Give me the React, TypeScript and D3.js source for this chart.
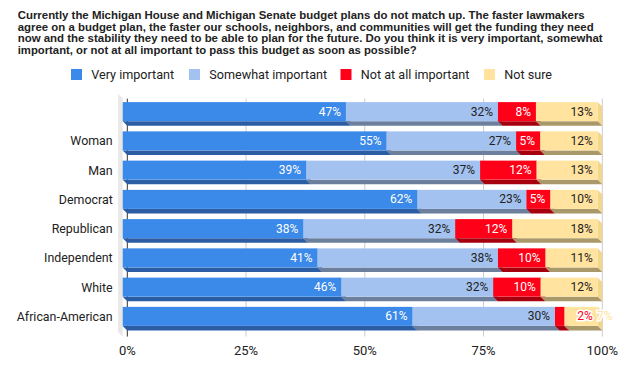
import React from 'react';
import * as d3 from 'd3';

const categories = ["", "Woman", "Man", "Democrat", "Republican", "Independent", "White", "African-American"];
const seriesNames = ["Very important", "Somewhat important", "Not at all important", "Not sure"];
const veryImportant = [47, 55, 39, 62, 38, 41, 46, 61];
const somewhatImportant = [32, 27, 37, 23, 32, 38, 32, 30];
const notAtAllImportant = [8, 5, 12, 5, 12, 10, 10, 2];
const notSure = [13, 12, 13, 10, 18, 11, 12, 7];
const xTicks = [0, 25, 50, 75, 100];

const titleLines = [
  "Currently the Michigan House and Michigan Senate budget plans do not match up. The faster lawmakers",
  "agree on a budget plan, the faster our schools, neighbors, and communities will get the funding they need",
  "now and the stability they need to be able to plan for the future. Do you think it is very important, somewhat",
  "important, or not at all important to pass this budget as soon as possible?",
];
const titleWidths = [567, 576, 585, 399];

const front = ["#3b89e8", "#a4c2f0", "#ff0019", "#ffe39f"];
const bottomFace = ["#2a5da3", "#6c7f9c", "#a6000f", "#a8986a"];
const sideFace = ["#3479d0", "#93afd8", "#e00016", "#f2d690"];
const labelFill = ["#ffffff", "#222222", "#ffffff", "#222222"];

const W = 635;
const H = 371;
const DX = 4.6;
const DY = 4.6;
const plotTop = 94;
const plotBottom = 332;
const legendX = [71, 189, 340.5, 484];

const textW = (s: string) => s.split('').reduce((a, c) => a + (c === '%' ? 8.7 : 6.7), 0);

export default function App() {
  const series = [veryImportant, somewhatImportant, notAtAllImportant, notSure];
  const x = d3.scaleLinear().domain([0, 1]).range([127.3, 602.3]);
  const y = d3.scaleBand<string>().domain(categories).range([97, 331]).paddingInner(0.35).paddingOuter(0.175);
  const h = y.bandwidth();
  const x0 = x(0);

  const rows = categories.map((cat, r) => {
    const vals = series.map(s => s[r]);
    const total = d3.sum(vals);
    let acc = 0;
    const segs = vals.map((v, i) => {
      const a = acc / total;
      acc += v;
      const b = acc / total;
      return { i, v, bx0: x(a), bx1: x(b) };
    });
    // label placement: small segments push their label into the next slot
    const labels: { i: number; v: number; end: number; outside: boolean }[] = [];
    let prevEnd = -Infinity;
    let pushed = false;
    segs.forEach((s, k) => {
      const txt = s.v + '%';
      const wSeg = s.bx1 - s.bx0;
      let end = s.bx1 - DX - 5;
      let outside = false;
      if (wSeg < textW(txt) + 6 && k < segs.length - 1) {
        end = segs[k + 1].bx1 - DX - 5;
        outside = true;
        pushed = true;
      } else if (pushed && end - textW(txt) < prevEnd + 2) {
        end = prevEnd + textW(txt) + 4.5;
        outside = true;
      }
      prevEnd = end;
      labels.push({ i: s.i, v: s.v, end, outside });
    });
    return { cat, y0: y(cat) as number, segs, labels };
  });

  return (
    <svg width={W} height={H} style={{ position: 'absolute', left: 0, top: 0, background: '#fff' }}>
      {/* title */}
      <g fontFamily="'Liberation Sans', Arial, sans-serif" fontWeight="bold" fontSize={11.2} fill="#222">
        {titleLines.map((t, i) => (
          <text key={i} x={17.7} y={19 + i * 11.5} textLength={titleWidths[i]} lengthAdjust="spacingAndGlyphs">{t}</text>
        ))}
      </g>

      {/* legend */}
      <g fontFamily="Roboto, sans-serif" fontSize={12.6} fill="#222">
        {seriesNames.map((n, i) => (
          <g key={n}>
            <rect x={legendX[i]} y={69} width={11} height={11} fill={front[i]} />
            <text x={legendX[i] + 20.3} y={74.5} dominantBaseline="central">{n}</text>
          </g>
        ))}
      </g>

      {/* left wall */}
      <polygon
        points={`${x0 - 2 * DX},${plotTop} ${x0 - DX},${plotTop + DY} ${x0 - DX},${plotBottom + DY} ${x0 - 2 * DX},${plotBottom}`}
        fill="#e8e8e8"
      />

      {/* gridlines */}
      {xTicks.map(t => (
        <line key={t} x1={x(t / 100)} x2={x(t / 100)} y1={plotTop + DY} y2={plotBottom + DY}
          stroke={t === 0 ? '#333' : '#cccccc'} strokeWidth={1} />
      ))}

      {/* bars */}
      {rows.map(row => {
        const yt = row.y0;
        const yb = row.y0 + h;
        return (
          <g key={row.cat || 'all'}>
            {row.segs.map(s => {
              const fx0 = s.bx0 - DX;
              const fx1 = s.bx1 - DX;
              return (
                <g key={s.i}>
                  <polygon points={`${fx1},${yt} ${s.bx1},${yt + DY} ${s.bx1},${yb + DY} ${fx1},${yb}`} fill={sideFace[s.i]} />
                  <polygon points={`${fx0},${yb} ${fx1},${yb} ${s.bx1},${yb + DY} ${s.bx0},${yb + DY}`} fill={bottomFace[s.i]} />
                  <rect x={fx0} y={yt} width={fx1 - fx0} height={h} fill={front[s.i]} />
                </g>
              );
            })}
            {row.labels.map(l => (
              <text key={'l' + l.i} x={l.end} y={yt + h / 2} dominantBaseline="central" textAnchor="end"
                fontFamily="Roboto, sans-serif" fontSize={12}
                fill={l.outside ? front[l.i] : labelFill[l.i]}
                stroke={l.outside ? '#fff' : 'none'} strokeWidth={l.outside ? 3 : 0}
                style={{ paintOrder: 'stroke' }}>
                {l.v + '%'}
              </text>
            ))}
            <text x={112.7} y={yt + h / 2} dominantBaseline="central" textAnchor="end"
              fontFamily="Roboto, sans-serif" fontSize={12.4} fill="#222">{row.cat}</text>
          </g>
        );
      })}

      {/* x axis labels */}
      <g fontFamily="Roboto, sans-serif" fontSize={13} fill="#222" textAnchor="middle">
        {xTicks.map(t => (
          <text key={t} x={x(t / 100)} y={350} dominantBaseline="central">{t + '%'}</text>
        ))}
      </g>
    </svg>
  );
}
